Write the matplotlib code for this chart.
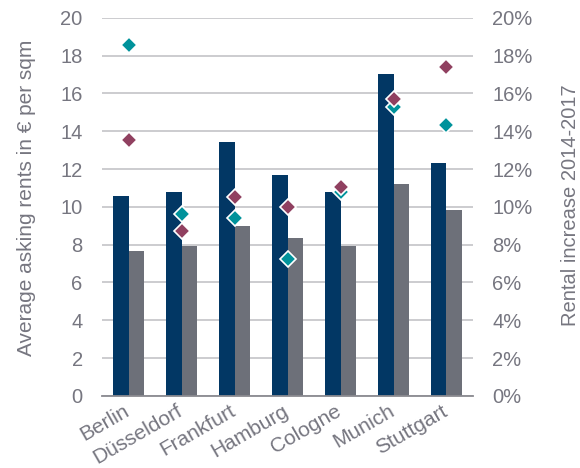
import numpy as np
import matplotlib.pyplot as plt
import matplotlib.transforms as mtransforms

plt.rcParams['font.family'] = ['Liberation Sans', 'DejaVu Sans']

cities = ['Berlin', 'Düsseldorf', 'Frankfurt', 'Hamburg', 'Cologne', 'Munich', 'Stuttgart']
rent_new = [10.57, 10.77, 13.42, 11.68, 10.77, 17.02, 12.31]
rent_old = [7.65, 7.92, 8.98, 8.35, 7.92, 11.22, 9.82]
incr_teal = [18.54, 9.63, 9.40, 7.23, 10.80, 15.29, 14.31]
incr_red = [13.53, 8.73, 10.50, 10.00, 11.04, 15.68, 17.41]

navy = '#023764'
grey = '#6d7079'
teal = '#00929b'
maroon = '#904060'
txt = '#767680'

fig = plt.figure(figsize=(5.8, 4.68), dpi=100)
ax = fig.add_axes([0.176, 0.154, 0.6395, 0.808])
ax2 = ax.twinx()

x = np.arange(len(cities))
w = 0.3
ax.bar(x - w / 2, rent_new, w, color=navy, zorder=2)
ax.bar(x + w / 2, rent_old, w, color=grey, zorder=2)

ax.set_ylim(0, 20)
ax.set_xlim(-0.5, len(cities) - 0.5)
ax.set_yticks(np.arange(0, 21, 2))
ax.grid(axis='y', color='#c8c8cc', linewidth=1.3, zorder=0)
ax.set_axisbelow(True)

for s in ['top', 'left', 'right']:
    ax.spines[s].set_visible(False)
    ax2.spines[s].set_visible(False)
ax.spines['bottom'].set_color('#8a8a90')
ax.spines['bottom'].set_linewidth(1.3)
ax2.spines['bottom'].set_visible(False)

ax.set_xticks(x)
ax.set_xticklabels(cities, rotation=30, ha='right')
ax.tick_params(axis='x', length=0, pad=4, labelsize=15, colors=txt)
shift = mtransforms.ScaledTranslation(4 / 100, 0, fig.dpi_scale_trans)
for lbl in ax.get_xticklabels():
    lbl.set_transform(lbl.get_transform() + shift)

ax.tick_params(axis='y', length=0, pad=14, labelsize=14.5, colors=txt)
ax.set_ylabel('Average asking rents in € per sqm', fontsize=15, color=txt)
ax.yaxis.set_label_coords(-0.178, 0.525)

ax2.plot(x, incr_teal, linestyle='none', marker='D', markersize=8.5,
         markerfacecolor=teal, markeredgecolor='white', markeredgewidth=1.2, zorder=3)
ax2.plot(x, incr_red, linestyle='none', marker='D', markersize=8.5,
         markerfacecolor=maroon, markeredgecolor='white', markeredgewidth=1.2, zorder=4)
ax2.set_ylim(0, 20)
ax2.set_yticks(np.arange(0, 21, 2))
ax2.set_yticklabels([f'{v}%' for v in range(0, 21, 2)])
ax2.tick_params(axis='y', length=0, pad=14, labelsize=14.5, colors=txt)
ax2.set_ylabel('Rental increase 2014-2017', fontsize=14.5, color=txt)
ax2.yaxis.set_label_coords(1.236, 0.505)

fig.savefig('out.png', dpi=100)
